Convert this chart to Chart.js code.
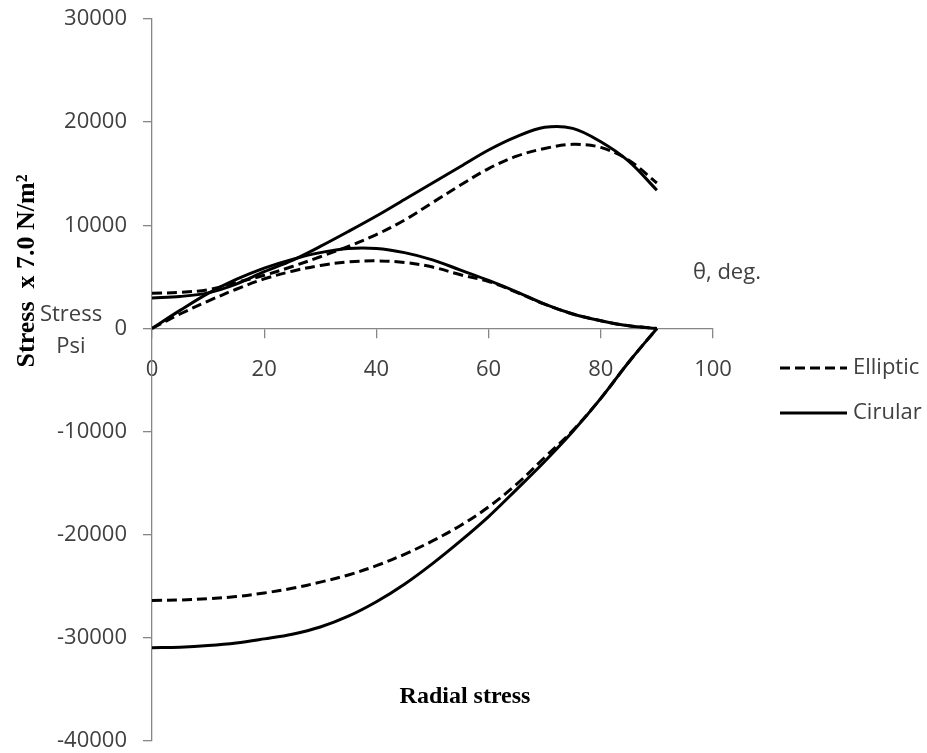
<!DOCTYPE html>
<html><head><meta charset="utf-8">
<script src="https://cdn.jsdelivr.net/npm/chart.js@4.4.0/dist/chart.umd.min.js"></script>
<style>html,body{margin:0;padding:0;background:#fff}#wrap{width:927px;height:753px;position:relative}</style>
</head><body><div id="wrap"><canvas id="c" width="927" height="753"></canvas></div>
<script>
// angle, degrees
const theta = [0,5,10,15,20,25,30,35,40,45,50,55,60,65,70,75,80,85,90];
// radial stress (lower curves)
const ellipticRadial = [-26370,-26330,-26200,-26000,-25650,-25200,-24600,-23900,-23000,-21900,-20600,-19100,-17300,-15100,-12500,-9900,-6780,-3250,0];
const circularRadial = [-30950,-30900,-30750,-30500,-30100,-29650,-28950,-27900,-26500,-24800,-22800,-20600,-18240,-15600,-12900,-10000,-6780,-3250,0];
// upper curves (large peak)
const ellipticUpper = [3400,3500,3750,4450,5150,6000,6950,7950,9100,10500,12200,13900,15500,16700,17450,17850,17550,16300,14100];
const circularUpper = [2950,3100,3450,4300,5500,6600,7950,9400,10900,12500,14100,15700,17300,18600,19500,19400,18100,16200,13400];
// middle curves (small peak)
const ellipticMid = [0,1400,2650,3800,4800,5550,6100,6450,6550,6400,5950,5200,4550,3500,2350,1400,750,250,0];
const circularMid = [0,1750,3400,4750,5850,6700,7350,7750,7750,7350,6650,5650,4650,3550,2350,1400,750,250,0];

const seriesNames = ['Elliptic','Cirular'];
const xTicks = [0,20,40,60,80,100];
const yTicks = [-40000,-30000,-20000,-10000,0,10000,20000,30000];

const pts = ys => theta.map((t,i)=>({x:t,y:ys[i]}));
const dash = [10,5];
function ds(label, ys, dashed){
  return {label, data: pts(ys), borderColor:'#000', borderWidth:3, borderDash: dashed?dash:[],
    pointRadius:0, showLine:true, fill:false, tension:0.35};
}
const datasets = [
  ds(seriesNames[0], ellipticUpper, true),
  ds(seriesNames[1], circularUpper, false),
  ds(seriesNames[0], ellipticMid, true),
  ds(seriesNames[1], circularMid, false),
  ds(seriesNames[0], ellipticRadial, true),
  ds(seriesNames[1], circularRadial, false)
];

const textColor = '#404040';
const annot = {
  id:'annot',
  afterDraw(chart){
    const ctx = chart.ctx;
    ctx.save();
    // legend (unique labels)
    const seen = {};
    let ly = 368;
    chart.data.datasets.forEach(d=>{
      if(seen[d.label]) return; seen[d.label]=1;
      ctx.beginPath(); ctx.setLineDash(d.borderDash||[]); ctx.lineWidth=3; ctx.strokeStyle=d.borderColor;
      ctx.moveTo(780, ly); ctx.lineTo(847, ly); ctx.stroke();
      ctx.setLineDash([]);
      ctx.font = '22px "Open Sans"'; ctx.fillStyle = textColor; ctx.textAlign='left'; ctx.textBaseline='middle';
      ctx.fillText(d.label, 853, ly);
      ly += 45;
    });
    // axis caption
    ctx.font = '22px "Open Sans"'; ctx.fillStyle = textColor; ctx.textAlign='left'; ctx.textBaseline='middle';
    ctx.fillText('θ, deg.', 693, 273);
    ctx.textAlign='center';
    ctx.fillText('Stress', 71, 315);
    ctx.fillText('Psi', 71, 347);
    // bold serif titles
    ctx.fillStyle = '#000';
    ctx.font = 'bold 24px "Liberation Serif"';
    ctx.fillText('Radial stress', 465, 697);
    ctx.translate(27, 271); ctx.rotate(-Math.PI/2);
    ctx.font = 'bold 26px "Liberation Serif"';
    ctx.fillText('Stress  x 7.0 N/m²', 0, 0);
    ctx.restore();
  }
};

new Chart(document.getElementById('c'), {
  type:'scatter',
  data:{datasets},
  plugins:[annot],
  options:{
    responsive:false, animation:false, devicePixelRatio:1,
    layout:{padding:{left:0, top:19, right:214, bottom:12}},
    plugins:{legend:{display:false}, tooltip:{enabled:false}},
    scales:{
      x:{type:'linear', position:{y:0}, min:0, max:100,
        afterBuildTicks: s => { s.ticks = xTicks.map(v=>({value:v})); },
        afterFit: s => { s.height = 0; s.paddingLeft = 0; s.paddingRight = 0; s.paddingTop = 0; s.paddingBottom = 0; },
        ticks:{color:textColor, font:{family:'Open Sans', size:22}, padding:19, maxRotation:0, autoSkip:false, callback:v=>String(v)},
        grid:{drawOnChartArea:false, drawTicks:true, tickLength:9, color:'#868686', lineWidth:1.3},
        border:{display:true, color:'#868686', width:1.3}
      },
      y:{type:'linear', min:-40000, max:30000,
        afterBuildTicks: s => { s.ticks = yTicks.map(v=>({value:v})); },
        afterFit: s => { s.width = 152; s.paddingTop = 0; s.paddingBottom = 0; s.paddingLeft = 0; s.paddingRight = 0; },
        ticks:{color:textColor, font:{family:'Open Sans', size:22}, padding:16, autoSkip:false, callback:v=>String(v)},
        grid:{drawOnChartArea:false, drawTicks:true, tickLength:9, color:'#868686', lineWidth:1.3},
        border:{display:true, color:'#868686', width:1.3}
      }
    }
  }
});
</script>
</body></html>
